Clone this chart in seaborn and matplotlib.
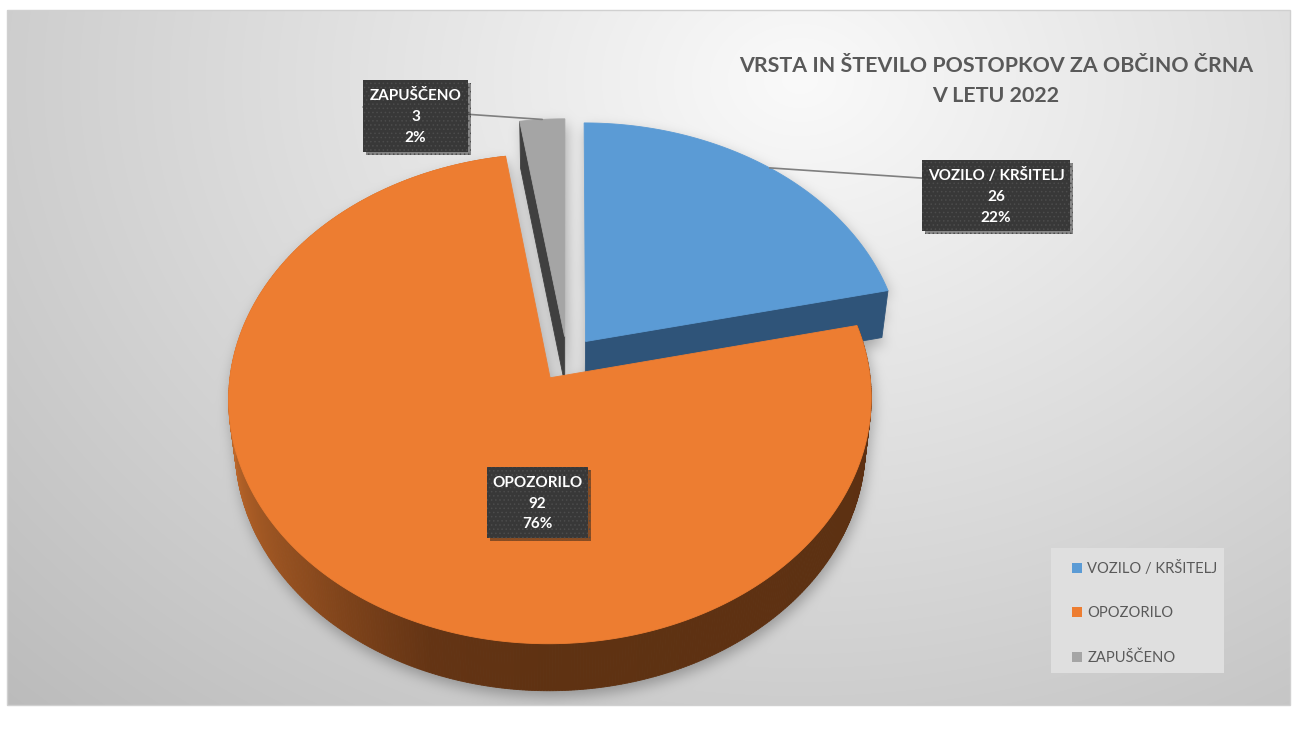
import numpy as np
import matplotlib
matplotlib.use("Agg")
import matplotlib.pyplot as plt
import matplotlib.patheffects as pe
from matplotlib.patches import Polygon, Rectangle, Patch
from matplotlib.path import Path
import seaborn as sns

# data
categories = ["VOZILO / KRŠITELJ", "OPOZORILO", "ZAPUŠČENO"]
counts = [26, 92, 3]
pct_labels = ["22%", "76%", "2%"]
top_colors = ["#5b9bd5", "#ed7d31", "#a5a5a5"]
cut_colors = ["#2f5479", "#8a4a1c", "#404040"]
title = "VRSTA IN ŠTEVILO POSTOPKOV ZA OBČINO ČRNA\nV LETU 2022"

sns.set_theme(style="white")
plt.rcParams["font.family"] = ["Lato", "DejaVu Sans"]
plt.rcParams["hatch.linewidth"] = 0.6

W, H = 1293, 733
fig = plt.figure(figsize=(W / 100, H / 100), dpi=100)
ax = fig.add_axes([0, 0, 1, 1])
ax.set_xlim(0, W)
ax.set_ylim(H, 0)
ax.axis("off")

# 3d pie projection (pixel space)
CX, CY, RX, RY, K, DEPTH, SHRINK = 567, 359, 318, 240, 0.085, 47, 0.981
EXPLODE = 0.094


def proj(X, Z, bottom=False):
    s = 1.0 / (1.0 + K * Z)
    x = CX + RX * X * s
    y = CY - RY * Z * s
    if bottom:
        x = CX + (x - CX) * SHRINK
        y = y + DEPTH
    return np.column_stack([np.atleast_1d(x), np.atleast_1d(y)])


vals = np.array(counts, dtype=float)
ends = np.cumsum(vals) / vals.sum() * 360
starts = ends - vals / vals.sum() * 360

slices = []
for a0, a1 in zip(starts, ends):
    mid = np.radians((a0 + a1) / 2)
    ox, oz = EXPLODE * np.sin(mid), EXPLODE * np.cos(mid)
    th = np.radians(np.linspace(a0, a1, max(int(a1 - a0) * 2, 8)))
    X, Z = ox + np.sin(th), oz + np.cos(th)
    top = np.vstack([proj(ox, oz), proj(X, Z)])
    bot = np.vstack([proj(ox, oz, True), proj(X, Z, True)])
    slices.append(dict(a0=a0, a1=a1, mid=mid, o=(ox, oz), th=th, X=X, Z=Z, top=top, bot=bot))

# background with radial gradient and soft shadow of the pie
yy, xx = np.mgrid[0:H, 0:W] + 0.5
d = np.sqrt(((xx - 800) / 900) ** 2 + ((yy - 80) / 700) ** 2)
g = np.clip(250 - 50 * d, 0, 255) / 255
pts = np.column_stack([xx.ravel(), yy.ravel()])
mask = np.zeros(H * W, dtype=bool)
for sl in slices:
    for poly in (sl["top"], sl["bot"], (sl["top"] + sl["bot"]) / 2):
        mask |= Path(poly).contains_points(pts)
mask = mask.reshape(H, W).astype(float)
mask = np.roll(np.roll(mask, 6, axis=0), 2, axis=1)


def box_blur(a, r):
    for axis in (0, 1):
        pad = [(0, 0), (0, 0)]
        pad[axis] = (r + 1, r)
        c = np.cumsum(np.pad(a, pad), axis=axis)
        n = a.shape[axis]
        if axis == 0:
            a = (c[2 * r + 1:2 * r + 1 + n] - c[:n]) / (2 * r + 1)
        else:
            a = (c[:, 2 * r + 1:2 * r + 1 + n] - c[:, :n]) / (2 * r + 1)
    return a


for _ in range(3):
    mask = box_blur(mask, 6)
g = g * (1 - 0.28 * mask)
g[:10, :] = 1
g[705:, :] = 1
g[:, :7] = 1
g[:, 1290:] = 1
ax.imshow(np.dstack([g, g, g]), extent=(0, W, H, 0), zorder=0, interpolation="bilinear")
ax.add_patch(Rectangle((7, 10), 1283, 695, fill=False, edgecolor="#d0d0d0", lw=1, zorder=1))


def poly(pts_, fc, z):
    ax.add_patch(Polygon(pts_, closed=True, facecolor=fc, edgecolor=fc, lw=0.6, zorder=z))


def side_color(deg):
    stops = np.array([90, 180, 200, 225, 270, 360])
    cols = np.array([[92, 48, 18], [95, 50, 18], [100, 52, 20], [140, 75, 30],
                     [200, 110, 45], [200, 110, 45]]) / 255
    return [np.interp(deg, stops, cols[:, i]) for i in range(3)]


blue, orange, gray = slices
# gray slice (back): left cut face then top
ox, oz = gray["o"]
poly(np.vstack([proj(ox, oz), proj(gray["X"][0], gray["Z"][0]),
                proj(gray["X"][0], gray["Z"][0], True), proj(ox, oz, True)]), cut_colors[2], 3)
poly(gray["top"], top_colors[2], 4)

# blue slice: front cut face then top
ox, oz = blue["o"]
poly(np.vstack([proj(ox, oz), proj(blue["X"][-1], blue["Z"][-1]),
                proj(blue["X"][-1], blue["Z"][-1], True), proj(ox, oz, True)]), cut_colors[0], 5)
poly(blue["top"], top_colors[0], 6)

# orange slice: outer wall with shading then top
t, b = orange["top"][1:], orange["bot"][1:]
degs = np.degrees(orange["th"])
for i in range(len(t) - 1):
    poly(np.vstack([t[i], t[i + 1], b[i + 1], b[i]]), side_color((degs[i] + degs[i + 1]) / 2), 7)
poly(orange["top"], top_colors[1], 8)

# data labels
label_boxes = {"VOZILO / KRŠITELJ": (922, 160, 148, 71),
               "OPOZORILO": (487, 467, 101, 71),
               "ZAPUŠČENO": (363, 80, 105, 72)}
for i, sl in enumerate(slices):
    x0, y0, w, h = label_boxes[categories[i]]
    if categories[i] != "OPOZORILO":
        ox, oz = sl["o"]
        rim = proj(ox + np.sin(sl["mid"]), oz + np.cos(sl["mid"]))[0]
        lx = x0 + w if rim[0] < x0 else x0
        ly = y0 + 28 if rim[0] < x0 else y0 + 27
        ax.plot([lx, rim[0]], [ly, rim[1]], color="#7f7f7f", lw=1.2, zorder=9)
    box = Rectangle((x0, y0), w, h, facecolor="#383838", edgecolor="#4c4c4c",
                    hatch="....", lw=0, zorder=10)
    box.set_path_effects([pe.SimplePatchShadow(offset=(2, -2), alpha=0.45), pe.Normal()])
    ax.add_patch(box)
    ax.text(x0 + w / 2, y0 + h / 2 + 1, f"{categories[i]}\n{counts[i]}\n{pct_labels[i]}",
            ha="center", va="center", color="white", fontsize=11, fontweight="bold",
            linespacing=1.6, zorder=11)

# title
ax.text(996, 81, title, ha="center", va="center", fontsize=15.4, fontweight="bold",
        color="#595959", linespacing=1.65, zorder=11)

# legend
ax.add_patch(Rectangle((1051, 548), 173, 125, facecolor="#dfdfdf", lw=0, zorder=9))
handles = [Patch(facecolor=c, edgecolor="none") for c in top_colors]
leg = fig.legend(handles, categories, loc="upper left",
                 bbox_to_anchor=(1072 / W, 1 - 561 / H), frameon=False,
                 fontsize=10.6, labelspacing=2.05, handlelength=0.7, handleheight=0.7,
                 handletextpad=0.35, borderpad=0, borderaxespad=0, labelcolor="#595959")
leg.set_zorder(12)

fig.savefig("out.png", dpi=100)
